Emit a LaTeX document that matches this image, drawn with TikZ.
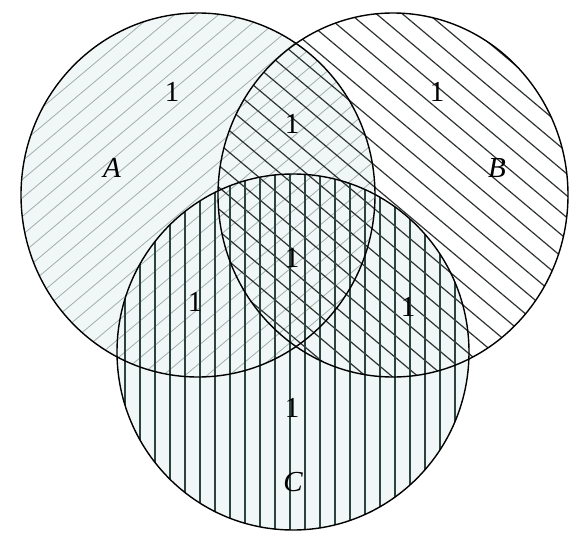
\documentclass[tikz,border=0pt]{standalone}
\usepackage{fontspec}
\setmainfont{Liberation Serif}
\begin{document}
\begin{tikzpicture}[x=1pt,y=-1pt,
  outline/.style={draw=black,line width=1.4pt},
  hatchA/.style={draw=hatchAcol,line width=0.8pt},
  hatchB/.style={draw=hatchBcol,line width=1.2pt},
  hatchC/.style={draw=hatchCcol,line width=1.3pt},
  lab/.style={font=\fontsize{29}{31}\selectfont, inner sep=0pt}]
\definecolor{hatchAcol}{HTML}{9FB0AC}
\definecolor{hatchBcol}{HTML}{2E3432}
\definecolor{hatchCcol}{HTML}{2C4440}
\definecolor{tint}{HTML}{F1F7F6}
\useasboundingbox (0,0) rectangle (574,533);
\fill[white] (0,0) rectangle (574,533);
% tints
\fill[tint] (198,195) ellipse [x radius=177, y radius=182];
\fill[tint] (293,352) ellipse [x radius=176, y radius=178];
% hatch A
\begin{scope}
  \clip (198,195) ellipse [x radius=177, y radius=182];
  \foreach \i in {-26,...,30} {
    \draw[hatchA] (\i*22,420) -- ++(500,-420);
  }
\end{scope}
% hatch B
\begin{scope}
  \clip (393,195) ellipse [x radius=175, y radius=182];
  \foreach \i in {-20,...,26} {
    \draw[hatchB] (\i*26+10,-10) -- ++(500,420);
  }
\end{scope}
% hatch C
\begin{scope}
  \clip (293,352) ellipse [x radius=176, y radius=178];
  \foreach \i in {-7,...,18} {
    \draw[hatchC] (200+\i*15,160) -- (200+\i*15,540);
  }
\end{scope}
% outlines
\draw[outline] (198,195) ellipse [x radius=177, y radius=182];
\draw[outline] (393,195) ellipse [x radius=175, y radius=182];
\draw[outline] (293,352) ellipse [x radius=176, y radius=178];
% labels
\node[lab] (la) at (112,168) {\itshape A};
\node[lab] (lb) at (497,168) {\itshape B};
\node[lab] (lc) at (293,482) {\itshape C};
\node[lab] (n1) at (172,92) {1};
\node[lab] (n2) at (437,92) {1};
\node[lab] (n3) at (292,124) {1};
\node[lab] (n4) at (292,258) {1};
\node[lab] (n5) at (195,302) {1};
\node[lab] (n6) at (408,307) {1};
\node[lab] (n7) at (292,408) {1};
\end{tikzpicture}
\end{document}
